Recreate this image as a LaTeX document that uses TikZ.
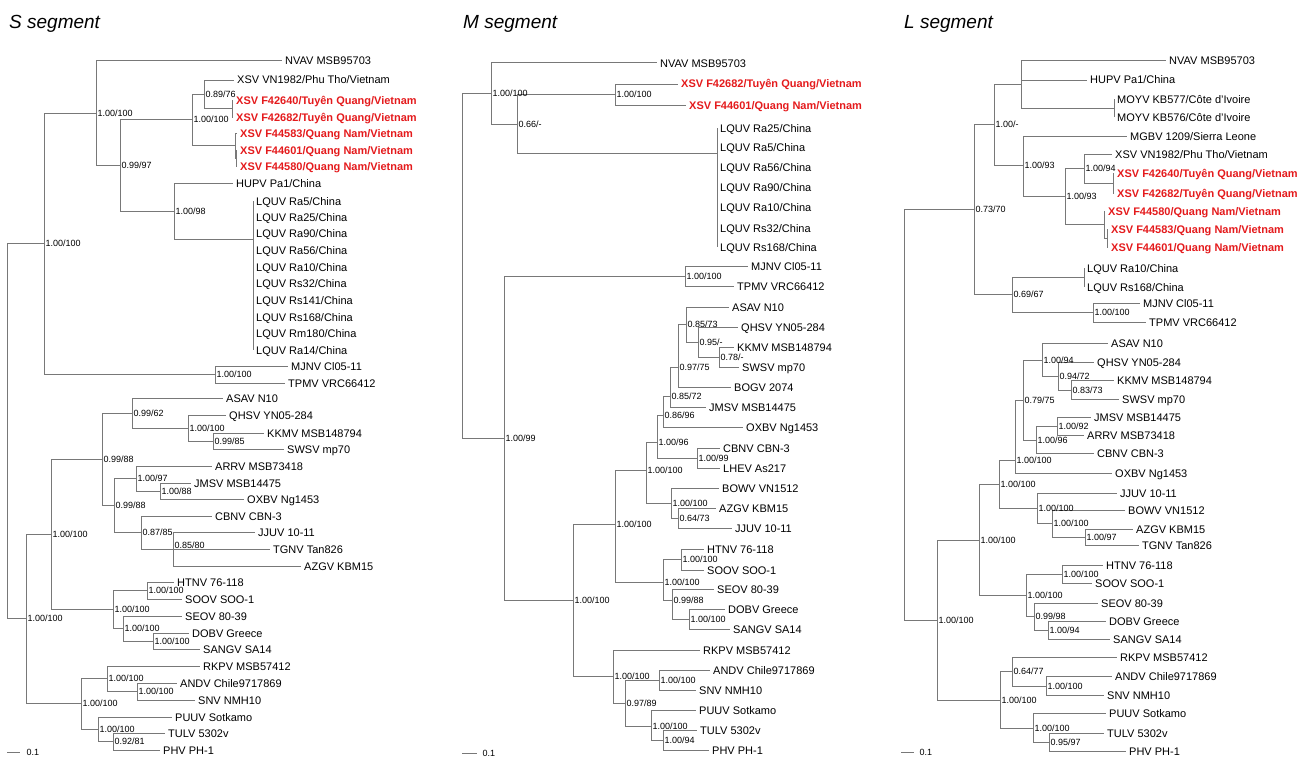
\documentclass[tikz,border=0pt]{standalone}
\usepackage{fontspec}
\setmainfont{Liberation Sans}
\definecolor{brgray}{RGB}{120,120,120}
\definecolor{xsvred}{RGB}{228,26,28}
\tikzset{
    br/.style={draw=brgray, line width=1pt},
    tip/.style={anchor=west, inner xsep=3pt, inner ysep=0pt, text height=8pt, text depth=0pt, font=\fontsize{11}{13}\selectfont},
    xsv/.style={tip, text=xsvred, font=\fontsize{11}{13}\selectfont\bfseries},
    bs/.style={anchor=west, inner xsep=1.5pt, inner ysep=0pt, text height=6.4pt, text depth=0pt, font=\fontsize{9}{10}\selectfont},
    ttl/.style={anchor=west, inner sep=0pt, font=\fontsize{19}{22}\selectfont\itshape}
}
\begin{document}
\begin{tikzpicture}[x=1pt, y=-1pt]
    \useasboundingbox (0,0) rectangle (1314,760);

    \node[ttl] (sTitle) at (9,24) {S segment};
    \node[tip] (sNVAV) at (282,61) {NVAV MSB95703};
    \node[tip] (sVN1982) at (234,80) {XSV VN1982/Phu Tho/Vietnam};
    \node[xsv] (sF42640) at (233,100) {XSV F42640/Tuyên Quang/Vietnam};
    \node[xsv] (sF42682) at (233,117) {XSV F42682/Tuyên Quang/Vietnam};
    \node[xsv] (sF44583) at (237,133) {XSV F44583/Quang Nam/Vietnam};
    \node[xsv] (sF44601) at (237,150) {XSV F44601/Quang Nam/Vietnam};
    \node[xsv] (sF44580) at (237,166) {XSV F44580/Quang Nam/Vietnam};
    \node[tip] (sHUPV) at (233,183) {HUPV Pa1/China};
    \node[tip] (sRa5) at (253,201) {LQUV Ra5/China};
    \node[tip] (sRa25) at (253,217) {LQUV Ra25/China};
    \node[tip] (sRa90) at (253,233) {LQUV Ra90/China};
    \node[tip] (sRa56) at (253,250) {LQUV Ra56/China};
    \node[tip] (sRa10) at (253,267) {LQUV Ra10/China};
    \node[tip] (sRs32) at (253,283) {LQUV Rs32/China};
    \node[tip] (sRs141) at (253,300) {LQUV Rs141/China};
    \node[tip] (sRs168) at (253,317) {LQUV Rs168/China};
    \node[tip] (sRm180) at (253,333) {LQUV Rm180/China};
    \node[tip] (sRa14) at (253,350) {LQUV Ra14/China};
    \node[tip] (sMJNV) at (288,366) {MJNV Cl05-11};
    \node[tip] (sTPMV) at (285,383) {TPMV VRC66412};
    \node[tip] (sASAV) at (223,398) {ASAV N10};
    \node[tip] (sQHSV) at (226,415) {QHSV YN05-284};
    \node[tip] (sKKMV) at (264,433) {KKMV MSB148794};
    \node[tip] (sSWSV) at (284,449) {SWSV mp70};
    \node[tip] (sARRV) at (212,466) {ARRV MSB73418};
    \node[tip] (sJMSV) at (191,483) {JMSV MSB14475};
    \node[tip] (sOXBV) at (244,499) {OXBV Ng1453};
    \node[tip] (sCBNV) at (212,516) {CBNV CBN-3};
    \node[tip] (sJJUV) at (255,532) {JJUV 10-11};
    \node[tip] (sTGNV) at (270,549) {TGNV Tan826};
    \node[tip] (sAZGV) at (301,566) {AZGV KBM15};
    \node[tip] (sHTNV) at (174,582) {HTNV 76-118};
    \node[tip] (sSOOV) at (182,599) {SOOV SOO-1};
    \node[tip] (sSEOV) at (182,616) {SEOV 80-39};
    \node[tip] (sDOBV) at (189,633) {DOBV Greece};
    \node[tip] (sSANGV) at (200,649) {SANGV SA14};
    \node[tip] (sRKPV) at (200,666) {RKPV MSB57412};
    \node[tip] (sANDV) at (177,683) {ANDV Chile9717869};
    \node[tip] (sSNV) at (195,700) {SNV NMH10};
    \node[tip] (sPUUV) at (172,717) {PUUV Sotkamo};
    \node[tip] (sTULV) at (165,733) {TULV 5302v};
    \node[tip] (sPHV) at (160,750) {PHV PH-1};

    \coordinate (sRoot) at (7,430);
    \coordinate (sI) at (44,243);
    \coordinate (sA) at (96,113);
    \coordinate (sB) at (120,165);
    \coordinate (sC) at (192,119);
    \coordinate (sE) at (204,94);
    \coordinate (sG) at (232,108);
    \coordinate (sF) at (235,145);
    \coordinate (sF2) at (236,158);
    \coordinate (sD) at (174,211);
    \coordinate (sH) at (253,239);
    \coordinate (sMJ) at (215,374);
    \coordinate (sJ) at (26,618);
    \coordinate (sK) at (51,534);
    \coordinate (sL) at (102,459);
    \coordinate (sM) at (132,413);
    \coordinate (sN) at (188,428);
    \coordinate (sO) at (213,441);
    \coordinate (sP) at (114,505);
    \coordinate (sQ) at (136,478);
    \coordinate (sR) at (160,491);
    \coordinate (sS) at (141,532);
    \coordinate (sT) at (173,549);
    \coordinate (sU) at (113,609);
    \coordinate (sV) at (147,590);
    \coordinate (sW) at (123,628);
    \coordinate (sX) at (153,641);
    \coordinate (sY) at (81,703);
    \coordinate (sZ) at (107,678);
    \coordinate (sAA) at (137,691);
    \coordinate (sAB) at (98,729);
    \coordinate (sAC) at (113,741);

    \draw[br] (sRoot) |- (sI) (sRoot) |- (sJ);
    \draw[br] (sI) |- (sA) (sI) |- (sMJ);
    \draw[br] (sA) |- (sNVAV.west) (sA) |- (sB);
    \draw[br] (sB) |- (sC) (sB) |- (sD);
    \draw[br] (sC) |- (sE) (sC) |- (sF);
    \draw[br] (sE) |- (sVN1982.west) (sE) |- (sG);
    \draw[br] (sG) |- (sF42640.west) (sG) |- (sF42682.west);
    \draw[br] (sF) |- (sF44583.west) (sF) |- (sF2);
    \draw[br] (sF2) |- (sF44601.west) (sF2) |- (sF44580.west);
    \draw[br] (sD) |- (sHUPV.west) (sD) |- (sH);
    \draw[br] (sH) |- (sRa5.west) (sH) |- (sRa14.west);
    \draw[br] (sMJ) |- (sMJNV.west) (sMJ) |- (sTPMV.west);
    \draw[br] (sJ) |- (sK) (sJ) |- (sY);
    \draw[br] (sK) |- (sL) (sK) |- (sU);
    \draw[br] (sL) |- (sM) (sL) |- (sP);
    \draw[br] (sM) |- (sASAV.west) (sM) |- (sN);
    \draw[br] (sN) |- (sQHSV.west) (sN) |- (sO);
    \draw[br] (sO) |- (sKKMV.west) (sO) |- (sSWSV.west);
    \draw[br] (sP) |- (sQ) (sP) |- (sS);
    \draw[br] (sQ) |- (sARRV.west) (sQ) |- (sR);
    \draw[br] (sR) |- (sJMSV.west) (sR) |- (sOXBV.west);
    \draw[br] (sS) |- (sCBNV.west) (sS) |- (sT);
    \draw[br] (sT) |- (sJJUV.west) (sT) -- (sTGNV.west) (sT) |- (sAZGV.west);
    \draw[br] (sU) |- (sV) (sU) |- (sW);
    \draw[br] (sV) |- (sHTNV.west) (sV) |- (sSOOV.west);
    \draw[br] (sW) |- (sSEOV.west) (sW) |- (sX);
    \draw[br] (sX) |- (sDOBV.west) (sX) |- (sSANGV.west);
    \draw[br] (sY) |- (sZ) (sY) |- (sAB);
    \draw[br] (sZ) |- (sRKPV.west) (sZ) |- (sAA);
    \draw[br] (sAA) |- (sANDV.west) (sAA) |- (sSNV.west);
    \draw[br] (sAB) |- (sPUUV.west) (sAB) |- (sAC);
    \draw[br] (sAC) |- (sTULV.west) (sAC) |- (sPHV.west);

    \node[bs] (sIl) at (sI) {1.00/100};
    \node[bs] (sAl) at (sA) {1.00/100};
    \node[bs] (sBl) at (sB) {0.99/97};
    \node[bs] (sCl) at (sC) {1.00/100};
    \node[bs] (sEl) at (sE) {0.89/76};
    \node[bs] (sDl) at (sD) {1.00/98};
    \node[bs] (sMJl) at (sMJ) {1.00/100};
    \node[bs] (sJl) at (sJ) {1.00/100};
    \node[bs] (sKl) at (sK) {1.00/100};
    \node[bs] (sLl) at (sL) {0.99/88};
    \node[bs] (sMl) at (sM) {0.99/62};
    \node[bs] (sNl) at (sN) {1.00/100};
    \node[bs] (sOl) at (sO) {0.99/85};
    \node[bs] (sPl) at (sP) {0.99/88};
    \node[bs] (sQl) at (sQ) {1.00/97};
    \node[bs] (sRl) at (sR) {1.00/88};
    \node[bs] (sSl) at (sS) {0.87/85};
    \node[bs, anchor=south west] (sTl) at (sT) {0.85/80};
    \node[bs] (sUl) at (sU) {1.00/100};
    \node[bs] (sVl) at (sV) {1.00/100};
    \node[bs] (sWl) at (sW) {1.00/100};
    \node[bs] (sXl) at (sX) {1.00/100};
    \node[bs] (sYl) at (sY) {1.00/100};
    \node[bs] (sZl) at (sZ) {1.00/100};
    \node[bs] (sAAl) at (sAA) {1.00/100};
    \node[bs] (sABl) at (sAB) {1.00/100};
    \node[bs] (sACl) at (sAC) {0.92/81};

    \coordinate (sBarA) at (7,752);
    \coordinate (sBarB) at (20,752);
    \draw[br] (sBarA) -- (sBarB);
    \node[bs] (sBarT) at (25,752) {0.1};

    \node[ttl] (mTitle) at (463,24) {M segment};
    \node[tip] (mNVAV) at (657,63) {NVAV MSB95703};
    \node[xsv] (mF42682) at (678,84) {XSV F42682/Tuyên Quang/Vietnam};
    \node[xsv] (mF44601) at (686,105) {XSV F44601/Quang Nam/Vietnam};
    \node[tip] (mRa25) at (717,128) {LQUV Ra25/China};
    \node[tip] (mRa5) at (717,147) {LQUV Ra5/China};
    \node[tip] (mRa56) at (717,167) {LQUV Ra56/China};
    \node[tip] (mRa90) at (717,187) {LQUV Ra90/China};
    \node[tip] (mRa10) at (717,207) {LQUV Ra10/China};
    \node[tip] (mRs32) at (717,228) {LQUV Rs32/China};
    \node[tip] (mRs168) at (717,247) {LQUV Rs168/China};
    \node[tip] (mMJNV) at (748,266) {MJNV Cl05-11};
    \node[tip] (mTPMV) at (734,286) {TPMV VRC66412};
    \node[tip] (mASAV) at (729,307) {ASAV N10};
    \node[tip] (mQHSV) at (738,327) {QHSV YN05-284};
    \node[tip] (mKKMV) at (734,347) {KKMV MSB148794};
    \node[tip] (mSWSV) at (739,367) {SWSV mp70};
    \node[tip] (mBOGV) at (731,387) {BOGV 2074};
    \node[tip] (mJMSV) at (706,407) {JMSV MSB14475};
    \node[tip] (mOXBV) at (743,427) {OXBV Ng1453};
    \node[tip] (mCBNV) at (720,448) {CBNV CBN-3};
    \node[tip] (mLHEV) at (720,468) {LHEV As217};
    \node[tip] (mBOWV) at (719,488) {BOWV VN1512};
    \node[tip] (mAZGV) at (716,508) {AZGV KBM15};
    \node[tip] (mJJUV) at (732,528) {JJUV 10-11};
    \node[tip] (mHTNV) at (704,549) {HTNV 76-118};
    \node[tip] (mSOOV) at (704,570) {SOOV SOO-1};
    \node[tip] (mSEOV) at (714,589) {SEOV 80-39};
    \node[tip] (mDOBV) at (725,609) {DOBV Greece};
    \node[tip] (mSANGV) at (730,629) {SANGV SA14};
    \node[tip] (mRKPV) at (700,650) {RKPV MSB57412};
    \node[tip] (mANDV) at (710,670) {ANDV Chile9717869};
    \node[tip] (mSNV) at (696,690) {SNV NMH10};
    \node[tip] (mPUUV) at (696,710) {PUUV Sotkamo};
    \node[tip] (mTULV) at (697,730) {TULV 5302v};
    \node[tip] (mPHV) at (709,750) {PHV PH-1};

    \coordinate (mRoot) at (462,265);
    \coordinate (mA) at (491,93);
    \coordinate (mB) at (517,124);
    \coordinate (mC) at (615,94);
    \coordinate (mD) at (717,153);
    \coordinate (mE) at (504,438);
    \coordinate (mF) at (685,276);
    \coordinate (mG) at (573,600);
    \coordinate (mH) at (615,524);
    \coordinate (mI) at (646,470);
    \coordinate (mJ) at (657,442);
    \coordinate (mK) at (663,415);
    \coordinate (mL) at (670,396);
    \coordinate (mM) at (678,367);
    \coordinate (mN) at (686,324);
    \coordinate (mO) at (698,342);
    \coordinate (mP) at (719,357);
    \coordinate (mQ) at (697,458);
    \coordinate (mR) at (671,503);
    \coordinate (mS) at (678,518);
    \coordinate (mT) at (663,582);
    \coordinate (mU) at (681,559);
    \coordinate (mV) at (672,600);
    \coordinate (mW) at (689,619);
    \coordinate (mX) at (613,676);
    \coordinate (mY) at (625,703);
    \coordinate (mZ) at (659,680);
    \coordinate (mAA) at (651,726);
    \coordinate (mAB) at (663,740);

    \draw[br] (mRoot) |- (mA) (mRoot) |- (mE);
    \draw[br] (mA) |- (mNVAV.west) (mA) |- (mB);
    \draw[br] (mB) |- (mC) (mB) |- (mD);
    \draw[br] (mC) |- (mF42682.west) (mC) |- (mF44601.west);
    \draw[br] (mD) |- (mRa25.west) (mD) |- (mRs168.west);
    \draw[br] (mE) |- (mF) (mE) |- (mG);
    \draw[br] (mF) |- (mMJNV.west) (mF) |- (mTPMV.west);
    \draw[br] (mG) |- (mH) (mG) |- (mX);
    \draw[br] (mH) |- (mI) (mH) |- (mT);
    \draw[br] (mI) |- (mJ) (mI) |- (mR);
    \draw[br] (mJ) |- (mK) (mJ) |- (mQ);
    \draw[br] (mK) |- (mL) (mK) |- (mOXBV.west);
    \draw[br] (mL) |- (mM) (mL) |- (mJMSV.west);
    \draw[br] (mM) |- (mN) (mM) |- (mBOGV.west);
    \draw[br] (mN) |- (mASAV.west) (mN) |- (mO);
    \draw[br] (mO) |- (mQHSV.west) (mO) |- (mP);
    \draw[br] (mP) |- (mKKMV.west) (mP) |- (mSWSV.west);
    \draw[br] (mQ) |- (mCBNV.west) (mQ) |- (mLHEV.west);
    \draw[br] (mR) |- (mBOWV.west) (mR) |- (mS);
    \draw[br] (mS) |- (mAZGV.west) (mS) |- (mJJUV.west);
    \draw[br] (mT) |- (mU) (mT) |- (mV);
    \draw[br] (mU) |- (mHTNV.west) (mU) |- (mSOOV.west);
    \draw[br] (mV) |- (mSEOV.west) (mV) |- (mW);
    \draw[br] (mW) |- (mDOBV.west) (mW) |- (mSANGV.west);
    \draw[br] (mX) |- (mRKPV.west) (mX) |- (mY);
    \draw[br] (mY) |- (mZ) (mY) |- (mAA);
    \draw[br] (mZ) |- (mANDV.west) (mZ) |- (mSNV.west);
    \draw[br] (mAA) |- (mPUUV.west) (mAA) |- (mAB);
    \draw[br] (mAB) |- (mTULV.west) (mAB) |- (mPHV.west);

    \node[bs] (mAl) at (mA) {1.00/100};
    \node[bs] (mBl) at (mB) {0.66/-};
    \node[bs] (mCl) at (mC) {1.00/100};
    \node[bs] (mEl) at (mE) {1.00/99};
    \node[bs] (mFl) at (mF) {1.00/100};
    \node[bs] (mGl) at (mG) {1.00/100};
    \node[bs] (mHl) at (mH) {1.00/100};
    \node[bs] (mIl) at (mI) {1.00/100};
    \node[bs] (mJl) at (mJ) {1.00/96};
    \node[bs] (mKl) at (mK) {0.86/96};
    \node[bs] (mLl) at (mL) {0.85/72};
    \node[bs] (mMl) at (mM) {0.97/75};
    \node[bs] (mNl) at (mN) {0.85/73};
    \node[bs] (mOl) at (mO) {0.95/-};
    \node[bs] (mPl) at (mP) {0.78/-};
    \node[bs] (mQl) at (mQ) {1.00/99};
    \node[bs] (mRl) at (mR) {1.00/100};
    \node[bs] (mSl) at (mS) {0.64/73};
    \node[bs] (mTl) at (mT) {1.00/100};
    \node[bs] (mUl) at (mU) {1.00/100};
    \node[bs] (mVl) at (mV) {0.99/88};
    \node[bs] (mWl) at (mW) {1.00/100};
    \node[bs] (mXl) at (mX) {1.00/100};
    \node[bs] (mYl) at (mY) {0.97/89};
    \node[bs] (mZl) at (mZ) {1.00/100};
    \node[bs] (mAAl) at (mAA) {1.00/100};
    \node[bs] (mABl) at (mAB) {1.00/94};

    \coordinate (mBarA) at (462,753);
    \coordinate (mBarB) at (477,753);
    \draw[br] (mBarA) -- (mBarB);
    \node[bs] (mBarT) at (481,753) {0.1};

    \node[ttl] (lTitle) at (904,24) {L segment};
    \node[tip] (lNVAV) at (1166,61) {NVAV MSB95703};
    \node[tip] (lHUPV) at (1087,80) {HUPV Pa1/China};
    \node[tip] (lKB577) at (1114,99) {MOYV KB577/Côte d'Ivoire};
    \node[tip] (lKB576) at (1114,117) {MOYV KB576/Côte d'Ivoire};
    \node[tip] (lMGBV) at (1127,136) {MGBV 1209/Sierra Leone};
    \node[tip] (lVN1982) at (1112,154) {XSV VN1982/Phu Tho/Vietnam};
    \node[xsv] (lF42640) at (1114,173) {XSV F42640/Tuyên Quang/Vietnam};
    \node[xsv] (lF42682) at (1114,193) {XSV F42682/Tuyên Quang/Vietnam};
    \node[xsv] (lF44580) at (1105,211) {XSV F44580/Quang Nam/Vietnam};
    \node[xsv] (lF44583) at (1108,229) {XSV F44583/Quang Nam/Vietnam};
    \node[xsv] (lF44601) at (1108,247) {XSV F44601/Quang Nam/Vietnam};
    \node[tip] (lRa10) at (1084,268) {LQUV Ra10/China};
    \node[tip] (lRs168) at (1084,287) {LQUV Rs168/China};
    \node[tip] (lMJNV) at (1140,303) {MJNV Cl05-11};
    \node[tip] (lTPMV) at (1146,322) {TPMV VRC66412};
    \node[tip] (lASAV) at (1108,343) {ASAV N10};
    \node[tip] (lQHSV) at (1094,362) {QHSV YN05-284};
    \node[tip] (lKKMV) at (1114,380) {KKMV MSB148794};
    \node[tip] (lSWSV) at (1119,399) {SWSV mp70};
    \node[tip] (lJMSV) at (1091,417) {JMSV MSB14475};
    \node[tip] (lARRV) at (1084,435) {ARRV MSB73418};
    \node[tip] (lCBNV) at (1094,453) {CBNV CBN-3};
    \node[tip] (lOXBV) at (1112,473) {OXBV Ng1453};
    \node[tip] (lJJUV) at (1117,493) {JJUV 10-11};
    \node[tip] (lBOWV) at (1125,510) {BOWV VN1512};
    \node[tip] (lAZGV) at (1133,529) {AZGV KBM15};
    \node[tip] (lTGNV) at (1139,545) {TGNV Tan826};
    \node[tip] (lHTNV) at (1103,565) {HTNV 76-118};
    \node[tip] (lSOOV) at (1092,583) {SOOV SOO-1};
    \node[tip] (lSEOV) at (1098,603) {SEOV 80-39};
    \node[tip] (lDOBV) at (1106,621) {DOBV Greece};
    \node[tip] (lSANGV) at (1110,639) {SANGV SA14};
    \node[tip] (lRKPV) at (1117,657) {RKPV MSB57412};
    \node[tip] (lANDV) at (1112,676) {ANDV Chile9717869};
    \node[tip] (lSNV) at (1104,695) {SNV NMH10};
    \node[tip] (lPUUV) at (1106,713) {PUUV Sotkamo};
    \node[tip] (lTULV) at (1104,733) {TULV 5302v};
    \node[tip] (lPHV) at (1126,751) {PHV PH-1};

    \coordinate (lRoot) at (904,413);
    \coordinate (lA) at (974,209);
    \coordinate (lB) at (994,124);
    \coordinate (lC) at (1021,84);
    \coordinate (lCm) at (1114,108);
    \coordinate (lD) at (1023,165);
    \coordinate (lE) at (1065,196);
    \coordinate (lF) at (1084,168);
    \coordinate (lG) at (1113,183);
    \coordinate (lH) at (1104,224);
    \coordinate (lH2) at (1107,238);
    \coordinate (lI) at (1012,294);
    \coordinate (lJ) at (1084,277);
    \coordinate (lK) at (1093,312);
    \coordinate (lL) at (937,620);
    \coordinate (lM) at (979,540);
    \coordinate (lN) at (999,484);
    \coordinate (lO) at (1015,460);
    \coordinate (lP) at (1023,400);
    \coordinate (lQ) at (1042,360);
    \coordinate (lU) at (1058,376);
    \coordinate (lT) at (1071,390);
    \coordinate (lR) at (1036,440);
    \coordinate (lS) at (1057,426);
    \coordinate (lV) at (1037,508);
    \coordinate (lW) at (1052,523);
    \coordinate (lX) at (1085,537);
    \coordinate (lY) at (1026,595);
    \coordinate (lZ) at (1062,574);
    \coordinate (lAA) at (1034,616);
    \coordinate (lAB) at (1048,630);
    \coordinate (lAC) at (1000,700);
    \coordinate (lAD) at (1012,671);
    \coordinate (lAE) at (1046,686);
    \coordinate (lAF) at (1033,728);
    \coordinate (lAG) at (1049,742);

    \draw[br] (lRoot) |- (lA) (lRoot) |- (lL);
    \draw[br] (lA) |- (lB) (lA) |- (lI);
    \draw[br] (lB) |- (lC) (lB) |- (lD);
    \draw[br] (lC) |- (lNVAV.west) (lC) |- (lHUPV.west) (lC) |- (lCm);
    \draw[br] (lCm) |- (lKB577.west) (lCm) |- (lKB576.west);
    \draw[br] (lD) |- (lMGBV.west) (lD) |- (lE);
    \draw[br] (lE) |- (lF) (lE) |- (lH);
    \draw[br] (lF) |- (lVN1982.west) (lF) |- (lG);
    \draw[br] (lG) |- (lF42640.west) (lG) |- (lF42682.west);
    \draw[br] (lH) |- (lF44580.west) (lH) |- (lH2);
    \draw[br] (lH2) |- (lF44583.west) (lH2) |- (lF44601.west);
    \draw[br] (lI) |- (lJ) (lI) |- (lK);
    \draw[br] (lJ) |- (lRa10.west) (lJ) |- (lRs168.west);
    \draw[br] (lK) |- (lMJNV.west) (lK) |- (lTPMV.west);
    \draw[br] (lL) |- (lM) (lL) |- (lAC);
    \draw[br] (lM) |- (lN) (lM) |- (lY);
    \draw[br] (lN) |- (lO) (lN) |- (lV);
    \draw[br] (lO) |- (lP) (lO) |- (lOXBV.west);
    \draw[br] (lP) |- (lQ) (lP) |- (lR);
    \draw[br] (lQ) |- (lASAV.west) (lQ) |- (lU);
    \draw[br] (lU) |- (lQHSV.west) (lU) |- (lT);
    \draw[br] (lT) |- (lKKMV.west) (lT) |- (lSWSV.west);
    \draw[br] (lR) |- (lS) (lR) |- (lCBNV.west);
    \draw[br] (lS) |- (lJMSV.west) (lS) |- (lARRV.west);
    \draw[br] (lV) |- (lJJUV.west) (lV) |- (lW);
    \draw[br] (lW) |- (lBOWV.west) (lW) |- (lX);
    \draw[br] (lX) |- (lAZGV.west) (lX) |- (lTGNV.west);
    \draw[br] (lY) |- (lZ) (lY) |- (lAA);
    \draw[br] (lZ) |- (lHTNV.west) (lZ) |- (lSOOV.west);
    \draw[br] (lAA) |- (lSEOV.west) (lAA) |- (lAB);
    \draw[br] (lAB) |- (lDOBV.west) (lAB) |- (lSANGV.west);
    \draw[br] (lAC) |- (lAD) (lAC) |- (lAF);
    \draw[br] (lAD) |- (lRKPV.west) (lAD) |- (lAE);
    \draw[br] (lAE) |- (lANDV.west) (lAE) |- (lSNV.west);
    \draw[br] (lAF) |- (lPUUV.west) (lAF) |- (lAG);
    \draw[br] (lAG) |- (lTULV.west) (lAG) |- (lPHV.west);

    \node[bs] (lAl) at (lA) {0.73/70};
    \node[bs] (lBl) at (lB) {1.00/-};
    \node[bs] (lDl) at (lD) {1.00/93};
    \node[bs] (lEl) at (lE) {1.00/93};
    \node[bs] (lFl) at (lF) {1.00/94};
    \node[bs] (lIl) at (lI) {0.69/67};
    \node[bs] (lKl) at (lK) {1.00/100};
    \node[bs] (lLl) at (lL) {1.00/100};
    \node[bs] (lMl) at (lM) {1.00/100};
    \node[bs] (lNl) at (lN) {1.00/100};
    \node[bs] (lOl) at (lO) {1.00/100};
    \node[bs] (lPl) at (lP) {0.79/75};
    \node[bs] (lQl) at (lQ) {1.00/94};
    \node[bs] (lUl) at (lU) {0.94/72};
    \node[bs] (lTl) at (lT) {0.83/73};
    \node[bs] (lRl) at (lR) {1.00/96};
    \node[bs] (lSl) at (lS) {1.00/92};
    \node[bs] (lVl) at (lV) {1.00/100};
    \node[bs] (lWl) at (lW) {1.00/100};
    \node[bs] (lXl) at (lX) {1.00/97};
    \node[bs] (lYl) at (lY) {1.00/100};
    \node[bs] (lZl) at (lZ) {1.00/100};
    \node[bs] (lAAl) at (lAA) {0.99/98};
    \node[bs] (lABl) at (lAB) {1.00/94};
    \node[bs] (lACl) at (lAC) {1.00/100};
    \node[bs] (lADl) at (lAD) {0.64/77};
    \node[bs] (lAEl) at (lAE) {1.00/100};
    \node[bs] (lAFl) at (lAF) {1.00/100};
    \node[bs] (lAGl) at (lAG) {0.95/97};

    \coordinate (lBarA) at (901,752);
    \coordinate (lBarB) at (914,752);
    \draw[br] (lBarA) -- (lBarB);
    \node[bs] (lBarT) at (918,752) {0.1};
\end{tikzpicture}
\end{document}
